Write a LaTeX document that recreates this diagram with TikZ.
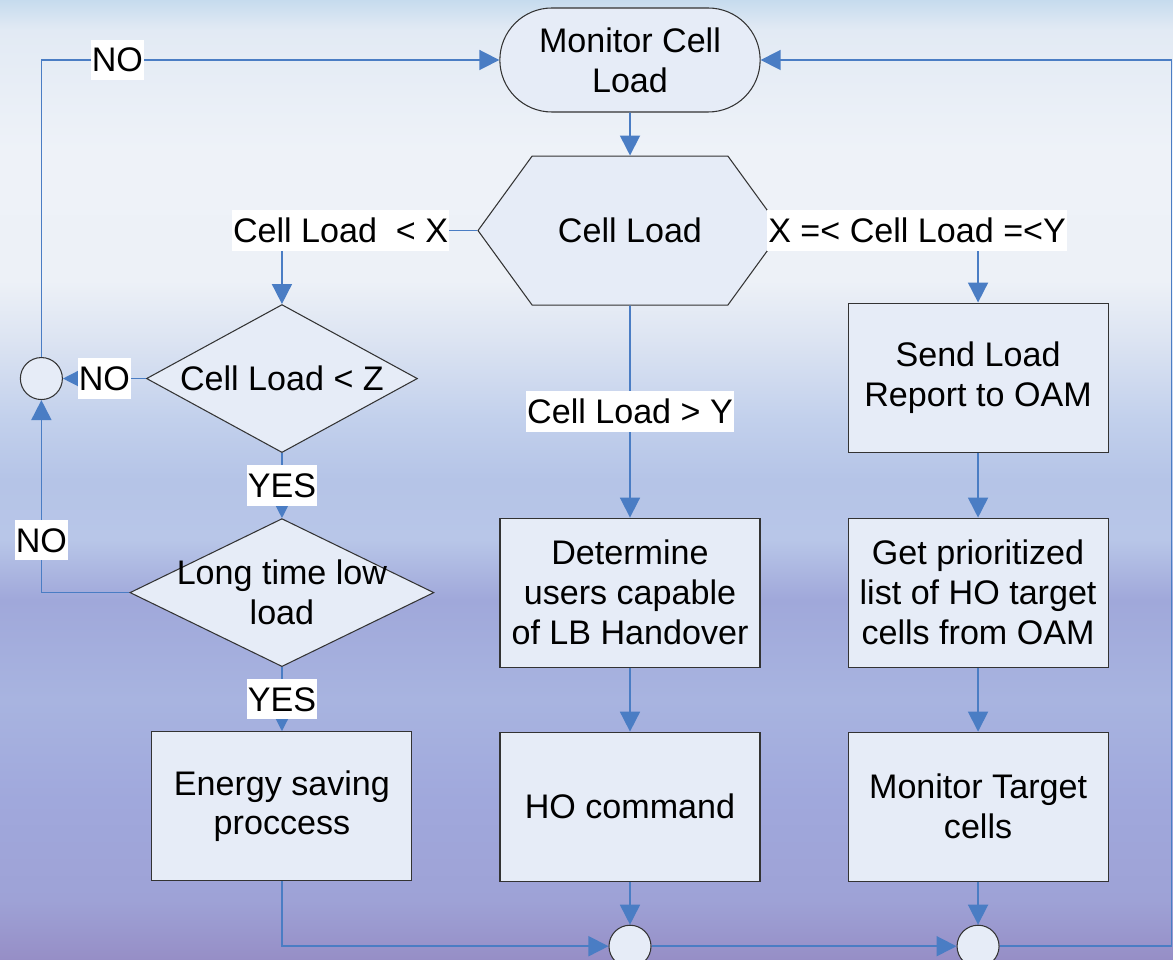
\documentclass[tikz,border=0pt]{standalone}
\usepackage{fontspec}
\setmainfont{Liberation Sans}
\usetikzlibrary{arrows.meta,positioning,shapes.geometric,shapes.misc,shapes.symbols}

\definecolor{lineblue}{RGB}{74,125,196}
\definecolor{boxfill}{RGB}{230,236,247}
\definecolor{bga}{HTML}{968EC6}
\definecolor{bgb}{HTML}{9EA2D6}
\definecolor{bgc}{HTML}{A0A8DC}
\definecolor{bgd}{HTML}{A8B4E0}
\definecolor{bge}{HTML}{A0A8DA}
\definecolor{bgf}{HTML}{B8C6E8}
\definecolor{bgg}{HTML}{B5C4E7}
\definecolor{bgh}{HTML}{C2D0EC}
\definecolor{bgi}{HTML}{DCE4F2}
\definecolor{bgj}{HTML}{EDF1F7}
\definecolor{bgk}{HTML}{EEF2F8}
\definecolor{bgl}{HTML}{E2EAF4}
\definecolor{bgm}{HTML}{C6DBEE}
\pgfdeclareverticalshading{bgshade}{100bp}{
  color(0bp)=(bga); color(25bp)=(bga); color(28.1bp)=(bgb);
  color(33.35bp)=(bgc); color(38.55bp)=(bgd); color(43.75bp)=(bge);
  color(46.9bp)=(bgf); color(50bp)=(bgg); color(53.15bp)=(bgh);
  color(57.3bp)=(bgi); color(60.4bp)=(bgj); color(67.2bp)=(bgk);
  color(73.45bp)=(bgl); color(75bp)=(bgm); color(100bp)=(bgm)}

\begin{document}
\begin{tikzpicture}[
    >={Triangle[length=0.4cm,width=0.4cm]},
    node distance=1.3cm,
    every node/.style={font=\fontsize{19.4}{22.7}\selectfont},
    shapebox/.style={draw=black!80, line width=0.6pt, fill=boxfill},
    process/.style={shapebox, rectangle, minimum width=5.2cm, minimum height=2.98cm, align=center},
    decision/.style={shapebox, diamond, minimum height=2.96cm, inner sep=0pt, shape aspect=1.9},
    terminal/.style={shapebox, rounded rectangle, minimum width=5.44cm, minimum height=2.08cm, align=center},
    junction/.style={shapebox, circle, minimum size=0.84cm, inner sep=0pt},
    flow/.style={->, draw=lineblue, line width=1pt},
    cond/.style={fill=white, text height=17.4pt, text depth=3.9pt, inner xsep=0.5pt, inner ysep=0.8pt}
  ]
    % 背景
    \useasboundingbox (0,0) rectangle (23.46,-19.2);
    \clip (0,0) rectangle (23.46,-19.2);
    \shade[shading=bgshade] (0,0) rectangle (23.46,-19.2);

    % ノード
    \node[terminal] (mon) at (12.6,-1.2) {Monitor Cell\\Load};
    \node[shapebox, signal, signal to=east and west, signal pointer angle=108,
      minimum width=6.08cm, minimum height=2.98cm, below=0.86cm of mon] (load) {Cell Load};
    \node[process, below=4.24cm of load] (det) {Determine\\users capable\\of LB Handover};
    \node[process, below=1.28cm of det] (ho) {HO command};
    \node[process, right=1.74cm of det] (plist) {Get prioritized\\list of HO target\\cells from OAM};
    \node[process, above=of plist] (report) {Send Load\\Report to OAM};
    \node[process, right=1.74cm of ho] (mtgt) {Monitor Target\\cells};
    \node[decision, minimum width=6.08cm, left=of det] (longlow) {};
    \node[align=center] (longtxt) at (longlow) {Long time low\\load};
    \node[decision, minimum width=5.42cm, above=of longlow] (lowz) {Cell Load < Z};
    \node[process, below=1.28cm of longlow] (save) {Energy saving\\proccess};

    % 合流点
    \node[junction, left=1.66cm of lowz] (jl) {};
    \node[junction, below=0.86cm of ho] (j1) {};
    \node[junction, below=0.86cm of mtgt] (j2) {};
    \coordinate[right=3.44cm of j2] (rc);

    % 矢印
    \draw[flow] (mon) -- (load);
    \draw[flow] (load.west) -| node[cond, pos=0.35] {Cell Load~~< X} (lowz.north);
    \draw[flow] (load.east) -| node[cond, pos=0.344] {X =< Cell Load =<Y} (report.north);
    \draw[flow] (load) -- node[cond] {Cell Load > Y} (det);
    \draw[flow] (lowz) -- node[cond] {NO} (jl);
    \draw[flow] (lowz) -- node[cond] {YES} (longlow);
    \draw[flow] (longlow.west) -| node[cond, pos=0.636] {NO} (jl.south);
    \draw[flow] (jl.north) |- node[cond, pos=0.583] {NO} (mon.west);
    \draw[flow] (longlow) -- node[cond] {YES} (save);
    \draw[flow] (det) -- (ho);
    \draw[flow] (ho) -- (j1);
    \draw[flow] (save.south) |- (j1.west);
    \draw[flow] (report) -- (plist);
    \draw[flow] (plist) -- (mtgt);
    \draw[flow] (mtgt) -- (j2);
    \draw[flow] (j1) -- (j2);
    \draw[flow] (j2.east) -- (rc) |- (mon.east);
\end{tikzpicture}
\end{document}
